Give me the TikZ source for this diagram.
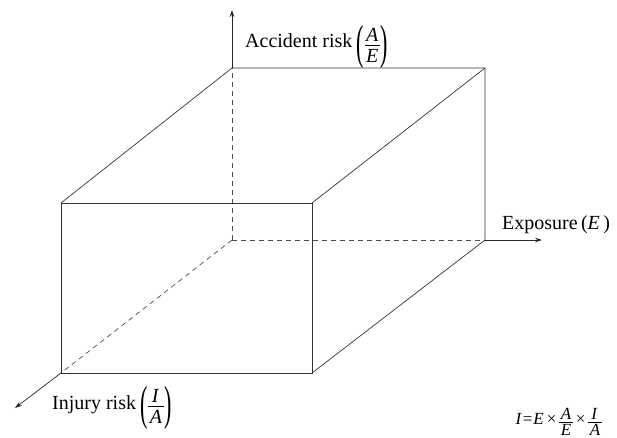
\documentclass[tikz,border=0pt]{standalone}
\usepackage{graphicx}
\usepackage{fontspec}
\setmainfont{Liberation Serif}
\usetikzlibrary{arrows.meta}
\newlength\frw
% #1 raise of bar, #2 gap, #3 numerator, #4 denominator
\newcommand{\myfr}[4]{%
  \begingroup
  \setbox0=\hbox{#3}\setbox2=\hbox{#4}%
  \frw=\wd0 \ifdim\wd2>\frw \frw=\wd2\fi
  \advance\frw by 3pt
  \setbox4=\vbox{\hbox to\frw{\hss\box0\hss}\kern#2\hrule height0.6pt width\frw}%
  \setbox6=\vtop{\hrule height0pt width\frw\kern#2\hbox to\frw{\hss\box2\hss}}%
  \hbox{\raise#1\box4\kern-\frw\raise#1\box6}%
  \endgroup}
\newcommand{\tallp}[1]{\raisebox{-10.2pt}{\scalebox{1.1}[2.4]{#1}}}
\tikzset{
  edge/.style={line width=0.7pt, draw=black!80},
  hidden/.style={line width=0.7pt, draw=black!70, dash pattern=on 5pt off 4pt},
  axis/.style={line width=0.7pt, draw=black!85, -{Stealth[length=7pt,width=4.5pt]}},
  lbl/.style={font=\fontsize{20}{24}\selectfont, inner sep=0pt}
}
\begin{document}
\begin{tikzpicture}[x=1pt,y=-1pt]
\useasboundingbox (0,0) rectangle (617,438);
% back corners
\coordinate (O) at (232,240);
\coordinate (BTL) at (232,68);
\coordinate (BTR) at (485,68);
\coordinate (BBR) at (485,240);
% front corners
\coordinate (FTL) at (61,203);
\coordinate (FTR) at (312,203);
\coordinate (FBL) at (61,373);
\coordinate (FBR) at (312,373);
% axis tips
\coordinate (Ytip) at (232,10);
\coordinate (Xtip) at (542,240);
\coordinate (Ztip) at (15,408);
% hidden edges
\draw[hidden] (O) -- (BTL);
\draw[hidden] (O) -- (BBR);
\draw[hidden] (O) -- (FBL);
% visible edges
\draw[edge] (FTL) -- (FTR) -- (FBR) -- (FBL) -- cycle;
\draw[edge] (FTL) -- (BTL) -- (BTR) -- (BBR) -- (FBR);
\draw[edge] (FTR) -- (BTR);
% axes
\draw[axis] (BTL) -- (Ytip);
\draw[axis] (BBR) -- (Xtip);
\draw[axis] (FBL) -- (Ztip);
% labels
\node[lbl, anchor=base west] (ylab) at (245,48) {Accident risk\kern4pt\tallp{(}\kern1pt\myfr{2.5pt}{3.5pt}{\textit{A}}{\textit{E}}\kern1pt\tallp{)}};
\node[lbl, anchor=base west] (xlab) at (502,229) {Exposure\,(\textit{E}\,)};
\node[lbl, anchor=base west] (zlab) at (52,409) {Injury risk\kern4pt\tallp{(}\kern1pt\myfr{2.5pt}{3.5pt}{\textit{I}\kern1pt}{\textit{A}}\kern1pt\tallp{)}};
\node[lbl, anchor=base east, font=\fontsize{17}{20}\selectfont] (formula) at (602,424) {\textit{I}\kern1pt=\kern1pt\textit{E}\kern3pt×\kern3pt\myfr{1.5pt}{2pt}{\textit{A}}{\textit{E}}\kern3pt×\kern3pt\myfr{1.5pt}{2pt}{\textit{I}\kern1pt}{\textit{A}}};
\end{tikzpicture}
\end{document}
